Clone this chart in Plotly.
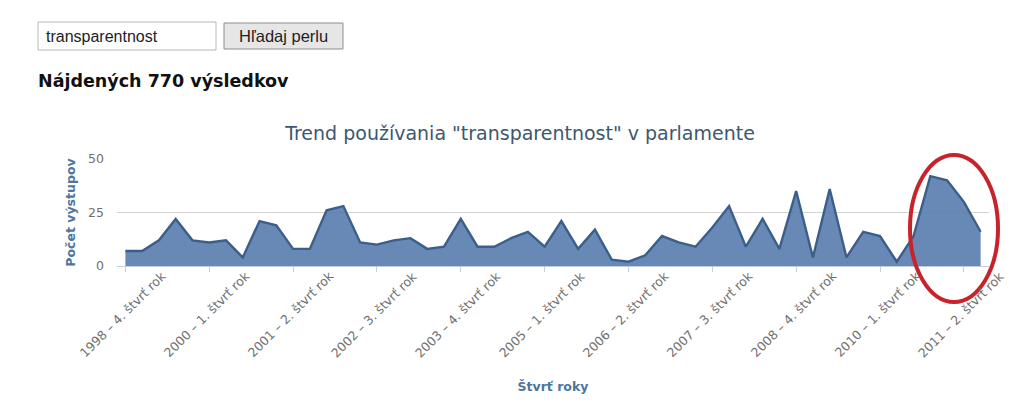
import plotly.graph_objects as go

# ---- data ----
start_year, start_q = 1998, 4
n_points = 52
categories = []
y_, q_ = start_year, start_q
for _ in range(n_points):
    categories.append(f"{y_} – {q_}. štvrť rok")
    q_ += 1
    if q_ > 4:
        q_ = 1
        y_ += 1

counts = [7, 7, 12, 22, 12, 11, 12, 4, 21, 19,
          8, 8, 26, 28, 11, 10, 12, 13, 8, 9,
          22, 9, 9, 13, 16, 9, 21, 8, 17, 3,
          2, 5, 14, 11, 9, 18, 28, 9, 22, 8,
          35, 4, 36, 4, 16, 14, 2, 14, 42, 40,
          30, 16]

tick_labels = ["1998 – 4. štvrť rok", "2000 – 1. štvrť rok", "2001 – 2. štvrť rok",
               "2002 – 3. štvrť rok", "2003 – 4. štvrť rok", "2005 – 1. štvrť rok",
               "2006 – 2. štvrť rok", "2007 – 3. štvrť rok", "2008 – 4. štvrť rok",
               "2010 – 1. štvrť rok", "2011 – 2. štvrť rok"]
tick_step = 5
y_ticks = [0, 25, 50]

title_text = 'Trend používania "transparentnost" v parlamente'
search_text = "transparentnost"
button_text = "Hľadaj perlu"
heading_text = "Nájdených 770 výsledkov"

# ---- layout geometry (pixels) ----
W, H = 1024, 418
PL, PR, PT, PB = 117, 989, 159, 266


def px(x):
    return (x - PL) / (PR - PL)


def py(y):
    return (PB - y) / (PB - PT)


fig = go.Figure()
fig.add_trace(go.Scatter(
    x=categories, y=counts, mode="lines", fill="tozeroy",
    line=dict(color="#3b5f8a", width=2.4),
    fillcolor="rgba(88,124,173,0.9)",
    hoverinfo="x+y", showlegend=False,
))

tick_cats = categories[::tick_step]

annotations = []
for cat, lab in zip(tick_cats, tick_labels):
    annotations.append(dict(
        x=cat, xref="x", y=0, yref="paper", text=lab, showarrow=False,
        textangle=-45, xanchor="center", yanchor="middle",
        xshift=-3, yshift=-48,
        font=dict(family="DejaVu Sans", size=12.5, color="#707070"),
    ))

# page elements above the chart
annotations.append(dict(
    x=px(44), y=py(36), xref="paper", yref="paper", text=search_text,
    showarrow=False, xanchor="left", yanchor="middle",
    font=dict(family="Liberation Sans", size=16, color="#222222"),
))
annotations.append(dict(
    x=px(283.5), y=py(36), xref="paper", yref="paper", text=button_text,
    showarrow=False, xanchor="center", yanchor="middle",
    font=dict(family="Liberation Sans", size=16.5, color="#222222"),
))
annotations.append(dict(
    x=px(36), y=py(81), xref="paper", yref="paper", text=f"<b>{heading_text}</b>",
    showarrow=False, xanchor="left", yanchor="middle",
    font=dict(family="DejaVu Sans", size=17.5, color="#111111"),
))

shapes = [
    dict(type="rect", xref="paper", yref="paper",
         x0=px(38), x1=px(216), y0=py(50), y1=py(22),
         line=dict(color="#b8b8b8", width=1), fillcolor="white"),
    dict(type="rect", xref="paper", yref="paper",
         x0=px(224), x1=px(343), y0=py(49), y1=py(23),
         line=dict(color="#8e8e8e", width=1), fillcolor="#e6e6e6"),
    dict(type="circle", xref="paper", yref="paper",
         x0=px(910), x1=px(998), y0=py(302), y1=py(155),
         line=dict(color="#c8222b", width=4)),
]

fig.update_layout(
    width=W, height=H,
    margin=dict(l=PL, r=W - PR, t=PT, b=H - PB, autoexpand=False),
    paper_bgcolor="white", plot_bgcolor="white",
    title=dict(text=title_text, x=520 / W, xref="container", xanchor="center",
               y=1 - 133 / H, yref="container", yanchor="middle",
               font=dict(family="DejaVu Sans", size=19, color="#3E576F")),
    xaxis=dict(
        type="category", range=[-0.5, n_points - 0.5],
        tickmode="array", tickvals=tick_cats, ticktext=tick_labels,
        showticklabels=False, ticks="outside", ticklen=5, tickcolor="#c0d0e0",
        showgrid=False, showline=True, linecolor="#c0d0e0", linewidth=1,
        zeroline=False,
        title=dict(text="<b>Štvrť roky</b>", standoff=111,
                   font=dict(family="DejaVu Sans", size=12.5, color="#4d759e")),
        fixedrange=True,
    ),
    yaxis=dict(
        range=[0, 50], tickvals=y_ticks, showgrid=True, gridcolor="#d4d4d4",
        gridwidth=1, zeroline=False, showline=False, ticks="",
        ticklabelstandoff=12,
        tickfont=dict(family="DejaVu Sans", size=12.5, color="#707070"),
        title=dict(text="<b>Počet výstupov</b>", standoff=9,
                   font=dict(family="DejaVu Sans", size=12.5, color="#4d759e")),
        fixedrange=True,
    ),
    annotations=annotations,
    shapes=shapes,
)

fig.write_html("out.html", config={"displayModeBar": False},
               post_script="document.body.style.margin='0px';document.body.style.overflow='hidden';")
